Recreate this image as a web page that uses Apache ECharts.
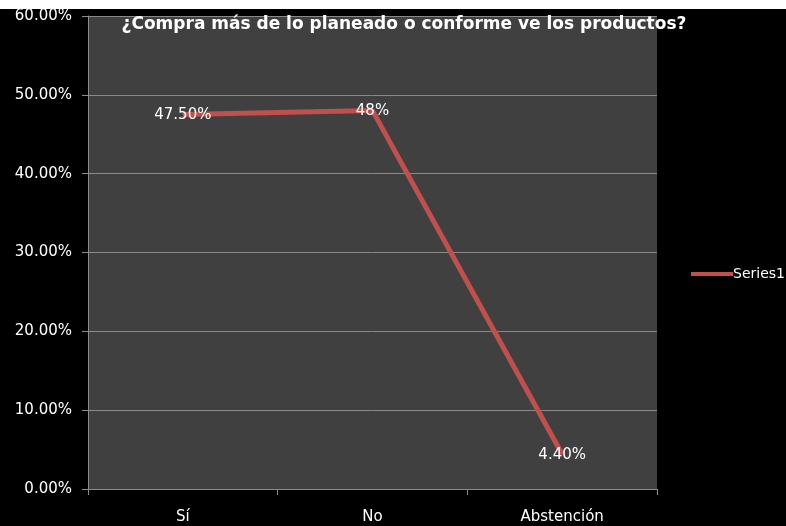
<!DOCTYPE html>
<html>
<head>
<meta charset="utf-8">
<script src="https://cdn.jsdelivr.net/npm/echarts@6/dist/echarts.min.js"></script>
<style>
  html, body { margin: 0; padding: 0; background: #000; }
  #chart { width: 786px; height: 526px; }
</style>
</head>
<body>
<div id="chart"></div>
<script>
// Survey answers and their shares (percent)
const categories = ['Sí', 'No', 'Abstención'];
const values = [47.5, 48, 4.4];
const valueLabels = ['47.50%', '48%', '4.40%'];
const seriesName = 'Series1';
const titleText = '¿Compra más de lo planeado o conforme ve los productos?';

const FONT = '"DejaVu Sans", "Noto Sans", sans-serif';

const chart = echarts.init(document.getElementById('chart'));
chart.setOption({
  backgroundColor: '#000000',
  animation: false,
  textStyle: { fontFamily: FONT },
  graphic: [
    { type: 'rect', left: 0, top: 0, shape: { width: 786, height: 9 }, style: { fill: '#ffffff' }, z: -1 }
  ],
  title: {
    text: titleText,
    left: 399,
    textAlign: 'center',
    top: 11,
    textStyle: { color: '#ffffff', fontSize: 17, fontWeight: 'bold', fontFamily: FONT }
  },
  legend: {
    data: [seriesName],
    orient: 'vertical',
    left: 686,
    top: 262,
    itemWidth: 42,
    itemHeight: 4,
    itemGap: 2,
    icon: 'rect',
    textStyle: { color: '#ffffff', fontSize: 14, padding: [0, 0, 0, -5] }
  },
  grid: {
    left: 88, right: 129, top: 16, bottom: 37,
    show: true, backgroundColor: '#404040', borderWidth: 0
  },
  xAxis: {
    type: 'category',
    data: categories,
    boundaryGap: true,
    axisLine: { lineStyle: { color: '#8c8c8c', width: 1 } },
    axisTick: { show: true, length: 6, lineStyle: { color: '#8c8c8c' } },
    axisLabel: { color: '#ffffff', fontSize: 15, margin: 21 }
  },
  yAxis: {
    type: 'value',
    min: 0, max: 60, interval: 10,
    axisLine: { show: true, lineStyle: { color: '#8c8c8c', width: 1 } },
    axisTick: { show: true, length: 6, lineStyle: { color: '#8c8c8c' } },
    splitLine: { lineStyle: { color: '#8a8a8a', width: 1 } },
    axisLabel: {
      color: '#ffffff', fontSize: 15, margin: 16,
      formatter: v => v.toFixed(2) + '%'
    }
  },
  series: [{
    name: seriesName,
    type: 'line',
    data: values,
    symbol: 'circle',
    symbolSize: 1,
    showSymbol: true,
    lineStyle: { color: '#C0504D', width: 5 },
    itemStyle: { color: '#C0504D' },
    label: {
      show: true,
      position: 'inside',
      offset: [0, 1],
      color: '#ffffff',
      fontSize: 15,
      formatter: p => valueLabels[p.dataIndex]
    }
  }]
});
</script>
</body>
</html>
